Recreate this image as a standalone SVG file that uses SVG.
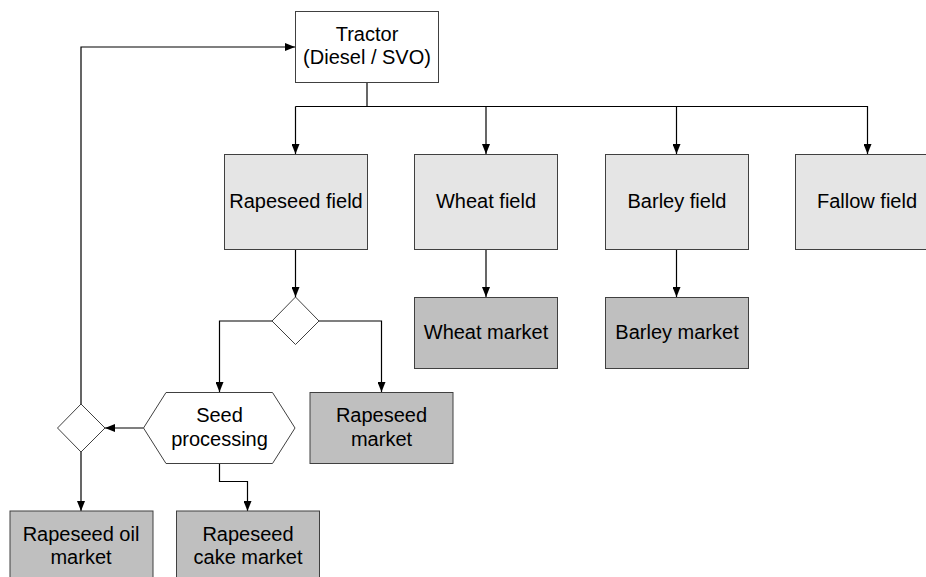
<svg xmlns="http://www.w3.org/2000/svg" width="926" height="577" viewBox="0 0 926 577">
<defs>
<marker id="ah" viewBox="0 0 10 8" refX="10" refY="4" markerWidth="10" markerHeight="8" markerUnits="userSpaceOnUse" orient="auto">
<path d="M0,0 L10,4 L0,8 Z" fill="#000"/>
</marker>
<style>
.box{stroke:#404040;stroke-width:1}
.field{fill:#e5e5e5}
.market{fill:#bfbfbf}
.white{fill:#fff}
.t{font-family:"Liberation Sans",Arial,sans-serif;font-size:20px;fill:#000;text-anchor:middle}
.c{fill:none;stroke:#000;stroke-width:1.2}
.ca{fill:none;stroke:#000;stroke-width:1.2;marker-end:url(#ah)}
</style>
</defs>
<rect width="926" height="577" fill="#fff"/>
<g id="connectors">
<path class="c" d="M367,82 V106.5"/>
<path class="ca" d="M295.5,106.5 H867.5 V154"/>
<path class="ca" d="M295.5,106.5 V154"/>
<path class="ca" d="M486,106.5 V154"/>
<path class="ca" d="M676.5,106.5 V154"/>
<path class="ca" d="M295.5,249.5 V297"/>
<path class="ca" d="M486,249.5 V297"/>
<path class="ca" d="M676.5,249.5 V297"/>
<path class="ca" d="M272,321 H219.5 V392"/>
<path class="ca" d="M319,321 H381.5 V392"/>
<path class="ca" d="M143.5,428 H105"/>
<path class="ca" d="M81,404 V47 H295"/>
<path class="ca" d="M81,452 V511"/>
<path class="ca" d="M219.5,463.5 V481.5 H247.5 V511"/>
</g>
<g id="tractor"><rect class="box white" x="295.5" y="11.5" width="143" height="71"/><text class="t" x="367" y="40.5">Tractor</text><text class="t" x="367" y="64">(Diesel / SVO)</text></g>
<g id="rapeseed-field"><rect class="box field" x="224.5" y="154.5" width="143" height="95"/><text class="t" x="296" y="208">Rapeseed field</text></g>
<g id="wheat-field"><rect class="box field" x="414.5" y="154.5" width="143" height="95"/><text class="t" x="486" y="208">Wheat field</text></g>
<g id="barley-field"><rect class="box field" x="605.5" y="154.5" width="143" height="95"/><text class="t" x="677" y="208">Barley field</text></g>
<g id="fallow-field"><rect class="box field" x="795.5" y="154.5" width="143" height="95"/><text class="t" x="867" y="208">Fallow field</text></g>
<g id="wheat-market"><rect class="box market" x="414.5" y="297.5" width="143" height="71"/><text class="t" x="486" y="338.5">Wheat market</text></g>
<g id="barley-market"><rect class="box market" x="605.5" y="297.5" width="143" height="71"/><text class="t" x="677" y="338.5">Barley market</text></g>
<g id="decision-1"><path class="box white" d="M295.5,297 L319,321 L295.5,344.5 L272,321 Z"/></g>
<g id="seed-processing"><path class="box white" d="M166,392.5 H272.5 L295,428 L272.5,463.5 H166 L143.5,428 Z"/><text class="t" x="219.5" y="421.5">Seed</text><text class="t" x="219.5" y="445.5">processing</text></g>
<g id="rapeseed-market"><rect class="box market" x="310" y="392.5" width="143" height="71"/><text class="t" x="381.5" y="421.5">Rapeseed</text><text class="t" x="381.5" y="445.5">market</text></g>
<g id="decision-2"><path class="box white" d="M81,404 L105,428 L81,452 L57.5,428 Z"/></g>
<g id="rapeseed-oil-market"><rect class="box market" x="10" y="511" width="143" height="71"/><text class="t" x="81" y="540.5">Rapeseed oil</text><text class="t" x="81" y="564">market</text></g>
<g id="rapeseed-cake-market"><rect class="box market" x="176.5" y="511" width="143" height="71"/><text class="t" x="248" y="540.5">Rapeseed</text><text class="t" x="248" y="564">cake market</text></g>
</svg>
